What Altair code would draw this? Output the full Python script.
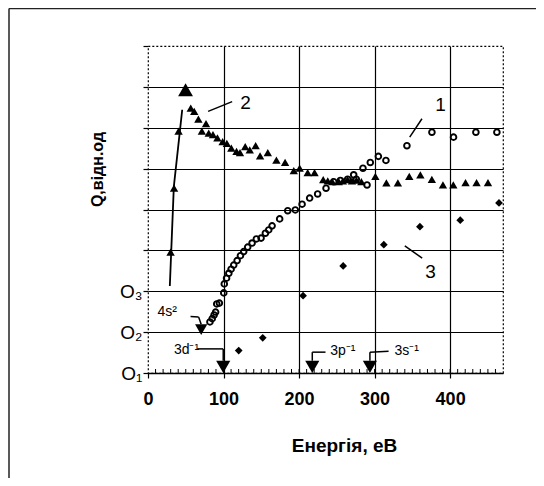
import altair as alt
import pandas as pd

FONT = "Liberation Sans"

# ---- curve 1 : open circles ----
s1_x = [82, 85, 87.5, 89.5, 91, 94.5, 100.3, 101, 104, 107, 110, 113.5, 118, 122.4, 126.7,
        132, 137.8, 143.5, 149.7, 155.4, 159.8, 164.3, 174.3, 185, 195, 204, 214, 224.6,
        235.7, 245.8, 254.6, 264.3, 272.3, 275.8, 284.6, 290, 294.3, 305, 315, 342.8,
        375.9, 404.5, 434.1, 461.9]
s1_q = [0.225, 0.233, 0.242, 0.249, 0.269, 0.271, 0.296, 0.318, 0.332, 0.344, 0.354, 0.364,
        0.375, 0.387, 0.397, 0.408, 0.418, 0.428, 0.430, 0.442, 0.450, 0.460, 0.477, 0.497,
        0.499, 0.513, 0.528, 0.538, 0.552, 0.568, 0.571, 0.574, 0.585, 0.574, 0.601, 0.560,
        0.615, 0.630, 0.620, 0.656, 0.689, 0.677, 0.689, 0.689]

# ---- curve 2 : filled triangles ----
s2_x = [29.9, 34.5, 40.5, 49.7, 56.6, 61.2, 66.7, 71.3, 76.8, 80.4, 86, 91.9, 98.8, 104.4,
        110.3, 117.2, 121.8, 128.7, 134.7, 142.5, 148.4, 158.6, 170, 181.5, 193, 200.8,
        211.4, 220.5, 232, 238, 244, 252.6, 258, 264.2, 270, 276, 282.5, 301, 315.6, 330.8,
        345.9, 360.6, 375.8, 390.5, 404.2, 420.4, 435, 450.1]
s2_q = [0.396, 0.552, 0.692, 0.793, 0.748, 0.740, 0.721, 0.692, 0.710, 0.687, 0.683, 0.675,
        0.666, 0.662, 0.650, 0.642, 0.639, 0.654, 0.646, 0.656, 0.631, 0.639, 0.621, 0.615,
        0.595, 0.601, 0.590, 0.590, 0.573, 0.570, 0.568, 0.568, 0.570, 0.573, 0.570, 0.572,
        0.568, 0.581, 0.565, 0.565, 0.581, 0.585, 0.574, 0.560, 0.560, 0.566, 0.566, 0.566]
peak_x = 49.7

# ---- curve 3 : filled diamonds ----
s3_x = [120.1, 151.9, 205.3, 258.4, 312.2, 360.0, 413.4, 464.7]
s3_q = [0.155, 0.186, 0.289, 0.362, 0.414, 0.458, 0.474, 0.516]

# ---- rising line drawn through curve 2 ----
fit_x = [28.9, 34.2, 42.4, 45.3]
fit_q = [0.313, 0.556, 0.695, 0.744]

# ---- curve numbers ----
num_text = ["1", "2", "3"]
num_x = [387.4, 129.0, 374.2]
num_q = [0.756, 0.760, 0.348]

# ---- leader lines (x, q) -> (x2, q2) ----
lead_x = [346.5, 79.6, 340.0, 56.3, 67.0, 65.2, 99.6, 217.5, 217.5, 293.8, 293.8]
lead_q = [0.677, 0.740, 0.411, 0.238, 0.237, 0.159, 0.159, 0.151, 0.151, 0.151, 0.151]
lead_x2 = [362.7, 111.4, 363.0, 67.0, 70.4, 99.6, 99.6, 235.0, 217.5, 318.5, 293.8]
lead_q2 = [0.722, 0.764, 0.381, 0.237, 0.219, 0.159, 0.130, 0.151, 0.130, 0.153, 0.130]

# ---- ionisation thresholds ----
thr_name = ["4s²", "3d⁻¹", "3p⁻¹", "3s⁻¹"]
thr_x = [70.4, 99.6, 217.5, 293.8]
thr_q = [0.206, 0.115, 0.115, 0.115]
thr_lab_x = [25.4, 51.0, 258.0, 342.4]
thr_lab_q = [0.250, 0.157, 0.155, 0.155]

# ---- axes ----
x_ticks = [0, 100, 200, 300, 400]
y_ticks = [0.1, 0.2, 0.3, 0.4, 0.5, 0.6, 0.7, 0.8, 0.9]
minor_x = list(range(10, 470, 10))

W, H = 355, 327

df1 = pd.DataFrame({"x": s1_x, "q": s1_q})
df2 = pd.DataFrame({"x": s2_x, "q": s2_q})
df3 = pd.DataFrame({"x": s3_x, "q": s3_q})
dfit = pd.DataFrame({"x": fit_x, "q": fit_q})
dnum = pd.DataFrame({"x": num_x, "q": num_q, "t": num_text})
dlead = pd.DataFrame({"x": lead_x, "q": lead_q, "x2": lead_x2, "q2": lead_q2})
dthr = pd.DataFrame({"x": thr_x, "q": thr_q, "name": thr_name})
dthl = pd.DataFrame({"x": thr_lab_x, "q": thr_lab_q, "name": thr_name})
dminor = pd.DataFrame({"x": minor_x})

X = alt.X("x:Q",
          scale=alt.Scale(domain=[0, 470], nice=False, zero=False),
          axis=alt.Axis(values=x_ticks, title="Енергія, еВ",
                        titleX=196, titleY=78, titleAlign="center",
                        titleBaseline="alphabetic", titleFont=FONT,
                        titleFontSize=19, titleFontWeight="bold", titleColor="black",
                        labelFont=FONT, labelFontSize=18, labelFontWeight="bold",
                        labelColor="black", labelPadding=12, labelFlush=False,
                        labelOverlap=False,
                        tickColor="black", tickSize=5, tickWidth=1.2,
                        domainColor="black", domainWidth=1.6,
                        grid=True, gridColor="black", gridWidth=1.2,
                        gridOpacity={"condition": {"test": "datum.value === 0", "value": 0},
                                     "value": 1}))
Y = alt.Y("q:Q",
          scale=alt.Scale(domain=[0.1, 0.9], nice=False, zero=False),
          axis=alt.Axis(values=y_ticks,
                        labelExpr="datum.value == 0.1 ? 'O₁' : datum.value == 0.2 ? 'O₂' : datum.value == 0.3 ? 'O₃' : ''",
                        title="Q,відн.од", titleAngle=270, titleX=-51, titleY=123,
                        titleAlign="center", titleBaseline="middle", titleFont=FONT,
                        titleFontSize=16, titleFontWeight="bold", titleColor="black",
                        labelFont=FONT, labelFontSize=19, labelColor="black",
                        labelPadding=1, labelBaseline="middle", labelOverlap=False,
                        tickColor="black", tickSize=5, tickWidth=1.2, domain=False,
                        grid=True, gridColor="black", gridWidth=1.2,
                        gridOpacity={"condition": {"test": "datum.value > 0.85", "value": 0},
                                     "value": 1}))

grid_minor = alt.Chart(dminor).mark_rule(color="black", strokeWidth=1).encode(
    x=X, y=alt.value(H - 4), y2=alt.value(H + 1))

fit = alt.Chart(dfit).mark_line(color="black", strokeWidth=1.8).encode(x=X, y=Y)

circles = alt.Chart(df1).mark_point(shape="circle", filled=False, color="black",
                                    strokeWidth=1.9, size=32, opacity=1).encode(x=X, y=Y)

tris = alt.Chart(df2).mark_point(shape="triangle-up", filled=True, color="black",
                                 opacity=1).encode(
    x=X, y=Y,
    size=alt.condition(f"datum.x == {peak_x}", alt.value(220), alt.value(70)))

diams = alt.Chart(df3).mark_point(shape="diamond", filled=True, color="black",
                                  size=60, opacity=1).encode(x=X, y=Y)

leads = alt.Chart(dlead).mark_rule(color="black", strokeWidth=1.5).encode(
    x=X, y=Y, x2="x2:Q", y2="q2:Q")

nums = alt.Chart(dnum).mark_text(font=FONT, fontSize=19, color="black",
                                 align="center", baseline="middle").encode(
    x=X, y=Y, text="t:N")

thr = alt.Chart(dthr).mark_point(shape="triangle-down", filled=True, color="black",
                                 opacity=1).encode(
    x=X, y=Y,
    size=alt.condition("datum.name == '4s²'", alt.value(150), alt.value(200)))

thr_lab = alt.Chart(dthl).mark_text(font=FONT, fontSize=14, color="black",
                                    align="center", baseline="middle").encode(
    x=X, y=Y, text="name:N")

frame_top = alt.Chart(alt.Data(values=[{}])).mark_rule(color="#222", strokeWidth=1.5).encode(
    x=alt.value(-139), x2=alt.value(420), y=alt.value(-37.5))
frame_left = alt.Chart(alt.Data(values=[{}])).mark_rule(color="#222", strokeWidth=1.5).encode(
    x=alt.value(-139), y=alt.value(-37.5), y2=alt.value(460))

chart = alt.layer(
    grid_minor, fit, leads, circles, tris, diams, thr, nums, thr_lab, frame_top, frame_left
).properties(
    width=W, height=H,
    autosize=alt.AutoSizeParams(type="none"),
    padding={"left": 140, "top": 38, "right": 33, "bottom": 105},
    background="white",
).configure_view(stroke="black", strokeDash=[2, 2], strokeWidth=1.2)

chart.save("out.html", embed_options={"renderer": "svg", "actions": False})
